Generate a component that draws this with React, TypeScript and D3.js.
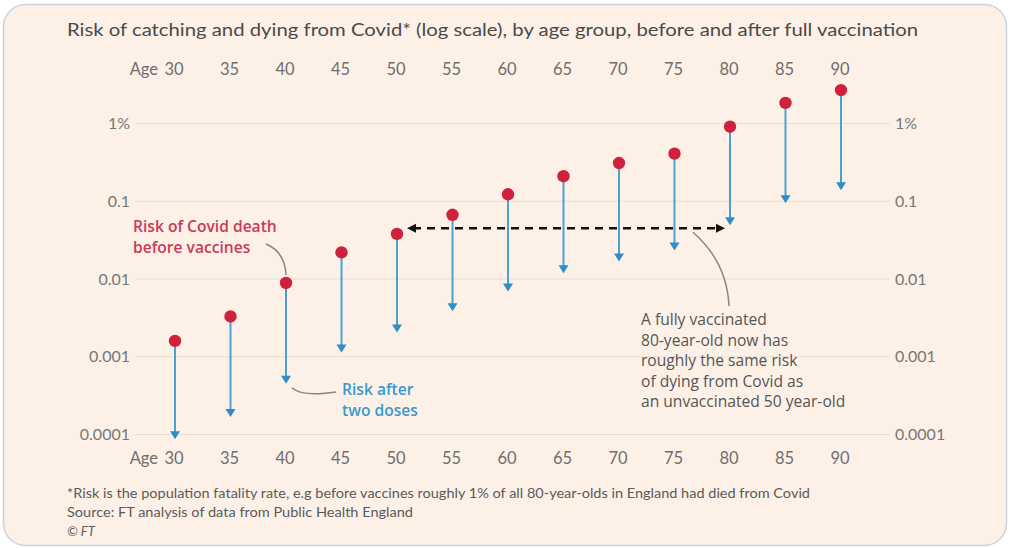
import React, { useEffect, useRef } from 'react'
import * as d3 from 'd3'

// ages shown on the top and bottom axes
const ages = [30, 35, 40, 45, 50, 55, 60, 65, 70, 75, 80, 85, 90]
// risk of death before vaccines, in %
const beforeRisk = [0.0016, 0.0033, 0.0089, 0.022, 0.038, 0.067, 0.123, 0.21, 0.31, 0.41, 0.91, 1.84, 2.69]
// risk after two doses, in %
const afterRisk = [0.000087, 0.000168, 0.00045, 0.00113, 0.00205, 0.00386, 0.0069, 0.0119, 0.0168, 0.0233, 0.049, 0.094, 0.139]
const yTicks = [1, 0.1, 0.01, 0.001, 0.0001]
const yTickLabels = ['1%', '0.1', '0.01', '0.001', '0.0001']
// level of the dashed comparison line
const sameRisk = 0.045

const title =
  'Risk of catching and dying from Covid* (log scale), by age group, before and after full vaccination'
const footnotes = [
  '*Risk is the population fatality rate, e.g before vaccines roughly 1% of all 80-year-olds in England had died from Covid',
  'Source: FT analysis of data from Public Health England',
  '© FT',
]
const redNote = ['Risk of Covid death', 'before vaccines']
const blueNote = ['Risk after', 'two doses']
const greyNote = [
  'A fully vaccinated',
  '80-year-old now has',
  'roughly the same risk',
  'of dying from Covid as',
  'an unvaccinated 50 year-old',
]

const FONT = 'Lato, "Open Sans", sans-serif'
const NOTE_FONT = '"Open Sans", Lato, sans-serif'
const RED = '#d0213c'
const BLUE = '#2f8dc8'

const App = () => {
  const svgRef = useRef<SVGSVGElement>(null)

  useEffect(() => {
    const width = 1010
    const height = 548

    const x = d3.scalePoint<number>().domain(ages).range([175, 841])
    const y = d3.scaleLog().domain([0.0001, 1]).range([434.5, 123.5])

    const svg = d3
      .select(svgRef.current)
      .attr('width', width)
      .attr('height', height)
      .attr('viewBox', [0, 0, width, height])
      .style('font-family', FONT)

    svg.selectAll('*').remove()

    // card
    svg
      .append('rect')
      .attr('x', 3.5)
      .attr('y', 4.5)
      .attr('width', 1003)
      .attr('height', 541)
      .attr('rx', 22)
      .attr('fill', '#fdf1e7')
      .attr('stroke', '#c9d3dc')
      .attr('stroke-width', 1.5)

    svg
      .append('text')
      .attr('x', 67)
      .attr('y', 36)
      .attr('font-size', 17.5)
      .attr('fill', '#4a4a4a')
      .attr('textLength', 851)
      .attr('lengthAdjust', 'spacingAndGlyphs')
      .text(title)

    // gridlines
    svg
      .append('g')
      .selectAll('line')
      .data(yTicks)
      .join('line')
      .attr('x1', 135)
      .attr('x2', 890)
      .attr('y1', (d) => y(d))
      .attr('y2', (d) => y(d))
      .attr('stroke', '#e9ded4')
      .attr('stroke-width', 1.2)

    // y labels, both sides
    const yl = svg.append('g').attr('font-size', 16).attr('fill', '#777')
    yl.selectAll('text.l')
      .data(yTicks)
      .join('text')
      .attr('class', 'l')
      .attr('x', 130)
      .attr('y', (d) => y(d) + 5.5)
      .attr('text-anchor', 'end')
      .text((d, i) => yTickLabels[i])
    yl.selectAll('text.r')
      .data(yTicks)
      .join('text')
      .attr('class', 'r')
      .attr('x', 895)
      .attr('y', (d) => y(d) + 5.5)
      .text((d, i) => yTickLabels[i])

    // age labels top and bottom
    ;[75, 464].forEach((ty) => {
      const g = svg.append('g').attr('font-size', 16.5).attr('fill', '#6e6e6e')
      g.selectAll('text')
        .data(ages)
        .join('text')
        .attr('x', (d) => x(d)! - 1)
        .attr('y', ty)
        .attr('text-anchor', 'middle')
        .text((d) => d)
      g.append('text')
        .attr('x', x(ages[0])! - 17)
        .attr('y', ty)
        .attr('text-anchor', 'end')
        .text('Age')
    })

    // stems and arrowheads
    const pts = ages.map((a, i) => ({ age: a, before: beforeRisk[i], after: afterRisk[i] }))
    svg
      .append('g')
      .selectAll('line')
      .data(pts)
      .join('line')
      .attr('x1', (d) => x(d.age)!)
      .attr('x2', (d) => x(d.age)!)
      .attr('y1', (d) => y(d.before))
      .attr('y2', (d) => y(d.after) - 5)
      .attr('stroke', '#4a9fd3')
      .attr('stroke-width', 2)
    svg
      .append('g')
      .selectAll('path')
      .data(pts)
      .join('path')
      .attr('d', (d) => {
        const cx = x(d.age)!
        const ty = y(d.after)
        return `M${cx},${ty}L${cx - 5},${ty - 8}L${cx + 5},${ty - 8}Z`
      })
      .attr('fill', BLUE)

    // dots
    svg
      .append('g')
      .selectAll('circle')
      .data(pts)
      .join('circle')
      .attr('cx', (d) => x(d.age)!)
      .attr('cy', (d) => y(d.before))
      .attr('r', 6.2)
      .attr('fill', RED)

    // dashed comparison line 50 -> 80
    const dy = y(sameRisk)
    const dx1 = x(50)! + 10
    const dx2 = x(80)! - 5
    svg
      .append('line')
      .attr('x1', dx1 + 6)
      .attr('x2', dx2 - 6)
      .attr('y1', dy)
      .attr('y2', dy)
      .attr('stroke', '#111')
      .attr('stroke-width', 2.6)
      .attr('stroke-dasharray', '8,6')
    svg
      .append('path')
      .attr('d', `M${dx1},${dy}L${dx1 + 9},${dy - 4.5}L${dx1 + 9},${dy + 4.5}Z`)
      .attr('fill', '#111')
    svg
      .append('path')
      .attr('d', `M${dx2},${dy}L${dx2 - 9},${dy - 4.5}L${dx2 - 9},${dy + 4.5}Z`)
      .attr('fill', '#111')

    // annotations
    const note = (lines: string[], tx: number, ty: number, color: string, weight: number) => {
      svg
        .append('g')
        .selectAll('text')
        .data(lines)
        .join('text')
        .attr('x', tx)
        .attr('y', (d, i) => ty + i * 20.5)
        .attr('font-family', NOTE_FONT)
        .attr('font-size', 15.6)
        .attr('font-weight', weight)
        .attr('fill', color)
        .text((d) => d)
    }
    note(redNote, 133, 232, '#c93a58', 600)
    note(blueNote, 342, 395, '#3a98d0', 600)
    note(greyNote, 641, 325, '#555', 400)

    const connector = (d: string) =>
      svg
        .append('path')
        .attr('d', d)
        .attr('fill', 'none')
        .attr('stroke', '#8a8580')
        .attr('stroke-width', 1.5)
    connector(`M266,244 Q285,252 286,${y(beforeRisk[2]) - 8}`)
    connector(`M292,${y(afterRisk[2]) + 4} Q302,397 336,392`)
    connector(`M693,${dy + 4} Q727,262 729,306`)

    // footnotes
    svg
      .append('g')
      .selectAll('text')
      .data(footnotes)
      .join('text')
      .attr('x', 67)
      .attr('y', (d, i) => 498 + i * 19)
      .attr('font-size', 13)
      .attr('fill', '#5a5a5a')
      .attr('font-style', (d, i) => (i === 2 ? 'italic' : 'normal'))
      .attr('textLength', (d, i) => (i === 0 ? 743 : i === 1 ? 346 : null))
      .attr('lengthAdjust', 'spacingAndGlyphs')
      .text((d) => d)
  }, [])

  return <svg ref={svgRef} style={{ position: 'absolute', left: 0, top: 0, background: '#fff' }}></svg>
}

export default App
